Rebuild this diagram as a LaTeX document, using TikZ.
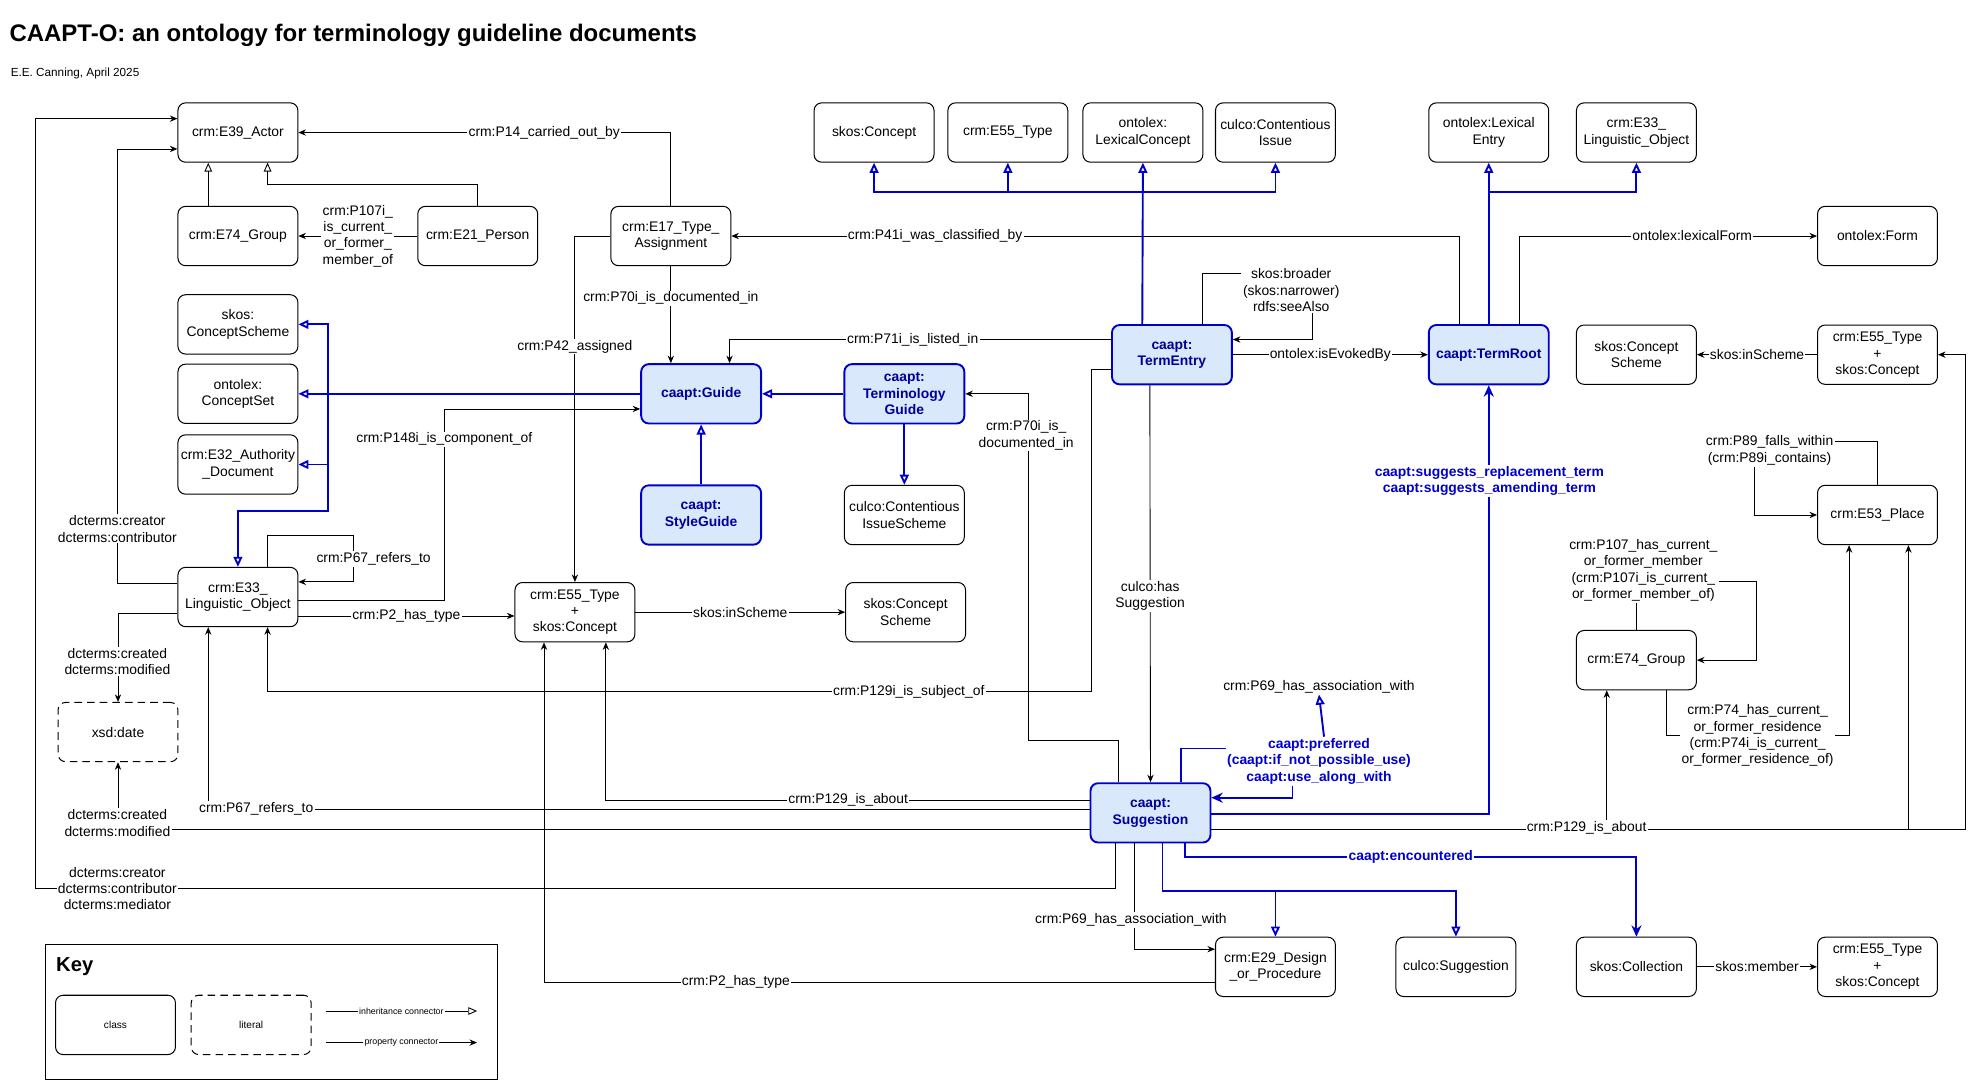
\documentclass[tikz,border=0pt]{standalone}
\usepackage{fontspec}
\setmainfont{Liberation Sans}
\usetikzlibrary{arrows.meta,calc}
\definecolor{bline}{RGB}{0,0,204}
\definecolor{bfill}{RGB}{218,232,252}
\definecolor{btext}{RGB}{0,0,153}
\catcode`\_=12
\begin{document}
\begin{tikzpicture}[x=1pt,y=-1pt,
  every node/.style={font=\fontsize{11}{13}\selectfont},
  box/.style={draw=black,line width=0.8pt,rounded corners=6pt,fill=white,minimum width=95pt,minimum height=47pt,align=center,inner sep=1pt},
  cbox/.style={box,draw=bline,fill=bfill,line width=1.5pt,text=btext,font=\fontsize{11}{13}\selectfont\bfseries},
  lit/.style={box,dashed,dash pattern=on 6pt off 4pt},
  lbl/.style={fill=white,inner sep=1pt,align=center},
  blbl/.style={lbl,text=bline,font=\fontsize{11}{13}\selectfont\bfseries},
  prop/.style={draw=black,line width=0.7pt,-{Stealth[length=6pt,width=5pt]}},
  line/.style={draw=black,line width=0.7pt},
  inh/.style={draw=black,line width=0.7pt,-{Triangle[open,length=7pt,width=6pt]}},
  binh/.style={draw=bline,line width=1.5pt,-{Triangle[open,length=8pt,width=7pt]}},
  bprop/.style={draw=bline,line width=1.5pt,-{Stealth[length=9pt,width=8pt]}},
  bline/.style={draw=bline,line width=1.5pt}]
\useasboundingbox (0,0) rectangle (1560,855);
\node[anchor=west,font=\fontsize{19}{21}\selectfont\bfseries] (title) at (4,28) {CAAPT-O: an ontology for terminology guideline documents};
\node[anchor=west,font=\fontsize{9.3}{11}\selectfont] (sub) at (5,58) {E.E. Canning, April 2025};
% nodes
\node[box] (actor) at (188.5,105) {crm:E39_Actor};
\node[box] (group1) at (188.5,187) {crm:E74_Group};
\node[box] (person) at (378.5,187) {crm:E21_Person};
\node[box] (e17) at (531.5,187) {crm:E17_Type_\\Assignment};
\node[box] (cs1) at (188.5,257) {skos:\\ConceptScheme};
\node[box] (cset) at (188.5,312) {ontolex:\\ConceptSet};
\node[box] (e32) at (188.5,368) {crm:E32_Authority\\_Document};
\node[box] (e33) at (188.5,473) {crm:E33_\\Linguistic_Object};
\node[lit] (xsd) at (93.5,580) {xsd:date};
\node[cbox] (guide) at (555.5,312) {caapt:Guide};
\node[cbox] (tguide) at (716.5,312) {caapt:\\Terminology\\Guide};
\node[cbox] (style) at (555.5,408) {caapt:\\StyleGuide};
\node[box] (ciss) at (716.5,408) {culco:Contentious\\IssueScheme};
\node[box] (e55a) at (455.5,485) {crm:E55_Type\\+\\skos:Concept};
\node[box] (cs2) at (717.5,485) {skos:Concept\\Scheme};
\node[box] (skc) at (692.5,105) {skos:Concept};
\node[box] (e55t) at (798.5,105) {crm:E55_Type};
\node[box] (lexc) at (905.5,105) {ontolex:\\LexicalConcept};
\node[box] (cissue) at (1010.5,105) {culco:Contentious\\Issue};
\node[box] (lexe) at (1179.5,105) {ontolex:Lexical\\Entry};
\node[box] (e33b) at (1296.5,105) {crm:E33_\\Linguistic_Object};
\node[cbox] (te) at (928.5,281) {caapt:\\TermEntry};
\node[cbox] (tr) at (1179.5,281) {caapt:TermRoot};
\node[box] (form) at (1487.5,187) {ontolex:Form};
\node[box] (cs3) at (1296.5,281) {skos:Concept\\Scheme};
\node[box] (e55c) at (1487.5,281) {crm:E55_Type\\+\\skos:Concept};
\node[box] (place) at (1487.5,408) {crm:E53_Place};
\node[box] (group2) at (1296.5,523) {crm:E74_Group};
\node[cbox] (sugg) at (911.5,644) {caapt:\\Suggestion};
\node[box] (e29) at (1010.5,766) {crm:E29_Design\\_or_Procedure};
\node[box] (csugg) at (1153.5,766) {culco:Suggestion};
\node[box] (coll) at (1296.5,766) {skos:Collection};
\node[box] (e55d) at (1487.5,766) {crm:E55_Type\\+\\skos:Concept};
\node[lbl] (p69) at (1045,544) {crm:P69_has_association_with};
\node[blbl] (pref) at (1045,603) {caapt:preferred\\(caapt:if_not_possible_use)\\caapt:use_along_with};
\node[lbl] (bro) at (1023,230) {skos:broader\\(skos:narrower)\\rdfs:seeAlso};
\node[lbl] (p89) at (1402,357) {crm:P89_falls_within\\(crm:P89i_contains)};
\node[lbl] (g2l) at (1302,452) {crm:P107_has_current_\\or_former_member\\(crm:P107i_is_current_\\or_former_member_of)};
% black connectors
\draw[prop] (e17.north) |- node[lbl,pos=0.67]{crm:P14_carried_out_by} (actor.east);
\draw[inh] ([xshift=-23.5]group1.north) -- ([xshift=-23.5]actor.south);
\draw[inh] (person.north) -- ++(0,-17) -| ([xshift=23.5]actor.south);
\draw[prop] (person.west) -- node[lbl]{crm:P107i_\\is_current_\\or_former_\\member_of} (group1.east);
\draw[prop] (e17.west) -| node[lbl,pos=0.66]{crm:P42_assigned} (e55a.north);
\draw[prop] (e17.south) -- node[lbl,pos=0.33]{crm:P70i_is_documented_in} ([xshift=-24]guide.north);
\draw[prop] ([xshift=-23.5]tr.north) |- node[lbl,pos=0.86]{crm:P41i_was_classified_by} (e17.east);
\draw[prop] ([yshift=12]te.west) -| node[lbl,pos=0.26]{crm:P71i_is_listed_in} ([xshift=22.5]guide.north);
\draw[prop] ([xshift=23.5]e33.north) -- ++(0,-25) -| (280,461) -- ([yshift=12]e33.east);
\node[lbl] at (296,443) {crm:P67_refers_to};
\draw[prop] ([yshift=-3]e33.east) -| (352,324) -- ([yshift=-12]guide.west);
\node[lbl] at (352,348) {crm:P148i_is_component_of};
\draw[prop] ([yshift=-15]e33.east) -- node[lbl]{crm:P2_has_type} ([yshift=-3]e55a.west);
\draw[prop] (e55a.east) -- node[lbl]{skos:inScheme} (cs2.west);
\draw[prop] ([yshift=11]e33.west) -- (93,462) |- ([yshift=-13]actor.west);
\node[lbl] at (93,419) {dcterms:creator\\dcterms:contributor};
\draw[prop] ([yshift=-13]e33.west) -| (xsd.north);
\node[lbl] at (93,524) {dcterms:created\\dcterms:modified};
\draw[prop] ([yshift=-12]te.west) -| (865,548) -| ([xshift=23.5]e33.south);
\node[lbl] at (720,548) {crm:P129i_is_subject_of};
\draw[prop] ([yshift=10]sugg.west) -| ([xshift=24.5]e55a.south);
\node[lbl] at (672,634) {crm:P129_is_about};
\draw[prop] ([yshift=3]sugg.west) -| ([xshift=-23.5]e33.south);
\node[lbl] at (203,641) {crm:P67_refers_to};
\draw[prop] ([yshift=-13]sugg.west) -| (xsd.south);
\node[lbl] at (93,652) {dcterms:created\\dcterms:modified};
\draw[prop] ([xshift=-28]sugg.south) |- (28,704) |- ([yshift=11]actor.west);
\node[lbl] at (93,704) {dcterms:creator\\dcterms:contributor\\dcterms:mediator};
\draw[prop] ([xshift=-25]sugg.north) |- (815,587) |- (tguide.east);
\node[lbl] at (813,345) {crm:P70i_is_\\documented_in};
\draw[prop] ([xshift=-17.5]te.south) -- node[lbl,pos=0.53]{culco:has\\Suggestion} (sugg.north);
\draw[prop] ([yshift=-13]sugg.east) -- (1557,657) |- (e55c.east);
\coordinate (pa) at (1273,657);
\coordinate (pb) at (1512,657);
\draw[prop] (pa) -- ([xshift=-23.5]group2.south);
\draw[prop] (pb) -- ([xshift=24.5]place.south);
\node[lbl] at (1257,656) {crm:P129_is_about};
\draw[prop] ([xshift=-12.5]sugg.south) |- ([yshift=14]e29.west);
\node[lbl] at (896,729) {crm:P69_has_association_with};
\draw[prop] ([yshift=-12]e29.west) -| ([xshift=-24.5]e55a.south);
\node[lbl] at (583,778) {crm:P2_has_type};
\draw[prop] (coll.east) -- node[lbl]{skos:member} (e55d.west);
\draw[prop] (e55c.west) -- node[lbl]{skos:inScheme} (cs3.east);
\draw[prop] (te.east) -- node[lbl]{ontolex:isEvokedBy} (tr.west);
\draw[line] ([xshift=24.5]te.north) |- ([yshift=13]bro.west);
\draw[prop] ([xshift=17]bro.south) |- ([yshift=12]te.east);
\draw[prop] ([xshift=24.5]tr.north) |- node[lbl,pos=0.79]{ontolex:lexicalForm} (form.west);
\draw[line] (place.north) |- ([yshift=7]p89.east);
\draw[prop] ([xshift=-12]p89.south) |- (place.west);
\draw[line] (group2.north) -- (group2.north |- g2l.south);
\draw[prop] ([yshift=-9]g2l.east) -| ([xshift=47]group2.east) -- (group2.east);
\draw[prop] ([xshift=23.5]group2.south) -- ++(0,36) -| node[lbl,pos=0.25]{crm:P74_has_current_\\or_former_residence\\(crm:P74i_is_current_\\or_former_residence_of)} ([xshift=-22.5]place.south);
% blue connectors
\draw[binh] (guide.west) -- (cset.east);
\coordinate (j1) at (260,312);
\draw[binh] (j1) |- (cs1.east);
\draw[binh] (j1) |- (e32.east);
\draw[binh] (j1) -- (260,405) -| (e33.north);
\draw[binh] (tguide.west) -- (guide.east);
\draw[binh] (style.north) -- (guide.south);
\draw[binh] (tguide.south) -- (ciss.north);
\draw[bline] ([xshift=24.5]sugg.north) |- ([yshift=10]pref.west);
\draw[bprop] ([xshift=-21]pref.south) |- ([yshift=12]sugg.east);
\draw[binh] ([xshift=4]pref.north) -- (p69.south);
\draw[bprop] ([yshift=-1]sugg.east) -| (tr.south);
\node[blbl] at (1180,381) {caapt:suggests_replacement_term\\caapt:suggests_amending_term};
\draw[binh] ([xshift=9.5]sugg.south) -- ++(0,38) -| (csugg.north);
\coordinate (b1) at (1010.5,705.5);
\draw[binh] (b1) -- (e29.north);
\draw[bprop] ([xshift=27.5]sugg.south) -- ++(0,10.5) -| node[blbl,pos=0.25]{caapt:encountered} (coll.north);
\draw[binh] ([xshift=-23.5]te.north) -- (lexc.south);
\coordinate (c1) at (905.5,152);
\coordinate (c2) at (798.5,152);
\draw[binh] (c1) -| (skc.south);
\draw[binh] (c2) -- (e55t.south);
\draw[binh] (c1) -| (cissue.south);
\draw[binh] (tr.north) -- (lexe.south);
\coordinate (c3) at (1179.5,152);
\draw[binh] (c3) -| (e33b.south);
% key
\node[draw=black,line width=0.8pt,minimum width=358pt,minimum height=107pt,anchor=north west,inner sep=0pt] (keybox) at (36,748) {};
\node[anchor=west,font=\fontsize{16}{18}\selectfont\bfseries] (keyt) at (41,766) {Key};
\node[box,font=\fontsize{8}{9}\selectfont] (kclass) at (91.5,812) {class};
\node[lit,font=\fontsize{8}{9}\selectfont] (klit) at (199,812) {literal};
\coordinate (k1) at (258,801); \coordinate (k2) at (378,801);
\coordinate (k3) at (258,826); \coordinate (k4) at (378,826);
\draw[inh] (k1) -- node[lbl,font=\fontsize{7}{8}\selectfont]{inheritance connector} (k2);
\draw[prop] (k3) -- node[lbl,font=\fontsize{7}{8}\selectfont]{property connector} (k4);
\end{tikzpicture}
\end{document}
